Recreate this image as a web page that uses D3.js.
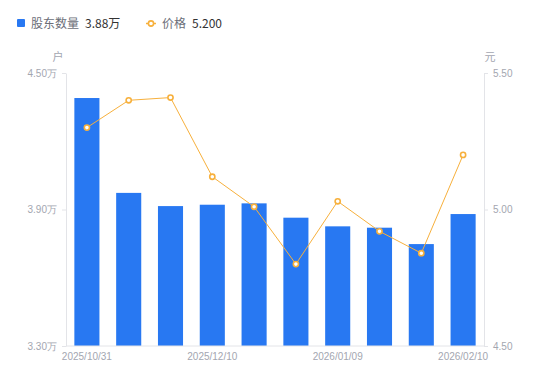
<!DOCTYPE html>
<html><head><meta charset="utf-8">
<script src="https://cdn.jsdelivr.net/npm/d3@7/dist/d3.min.js"></script>
<style>
body{margin:0;background:#fff;}
svg{display:block;font-family:"Noto Sans CJK SC","Noto Sans",sans-serif;}
</style></head>
<body><svg id="c" width="550" height="381"></svg>
<script>
const categories = ["2025/10/31","2025/11/10","2025/11/20","2025/12/10","2025/12/19","2025/12/31","2026/01/09","2026/01/20","2026/01/30","2026/02/10"];
const shownLabels = ["2025/10/31","2025/12/10","2026/01/09","2026/02/10"];
const holders = [4.39, 3.973, 3.915, 3.921, 3.927, 3.864, 3.826, 3.82, 3.748, 3.88]; // 万户
const prices = [5.30, 5.40, 5.41, 5.12, 5.01, 4.80, 5.03, 4.92, 4.84, 5.20];
const leftTicks = [3.30, 3.90, 4.50];
const rightTicks = [4.50, 5.00, 5.50];

const svg = d3.select("#c");
const L = 66, R = 484, T = 73, B = 346;
const blue = "#2878f2", orange = "#f7b03c", gray = "#a3a6b0", axisCol = "#e3e4e8";

const x = d3.scaleBand().domain(categories).range([L, R]).paddingInner(0.4).paddingOuter(0.2);
const yL = d3.scaleLinear().domain([3.30, 4.50]).range([B, T]);
const yR = d3.scaleLinear().domain([4.50, 5.50]).range([B, T]);

// bars
svg.append("g").selectAll("rect").data(holders).join("rect")
  .attr("x", (d,i) => x(categories[i]))
  .attr("y", d => yL(d))
  .attr("width", x.bandwidth())
  .attr("height", d => B - yL(d))
  .attr("fill", blue);

// axes
const styleAxis = g => {
  g.selectAll(".domain").attr("stroke", axisCol);
  g.selectAll(".tick line").attr("stroke", axisCol);
  g.selectAll(".tick text").attr("fill", gray).attr("font-size", 10);
};
const gL = svg.append("g").attr("transform", `translate(${L},0)`)
  .call(d3.axisLeft(yL).tickValues(leftTicks).tickSize(4).tickSizeOuter(0).tickPadding(5).tickFormat(d => d3.format(".2f")(d) + "万"));
styleAxis(gL);
const gR = svg.append("g").attr("transform", `translate(${R},0)`)
  .call(d3.axisRight(yR).tickValues(rightTicks).tickSize(4).tickSizeOuter(0).tickPadding(5).tickFormat(d3.format(".2f")));
styleAxis(gR);
const gB = svg.append("g").attr("transform", `translate(0,${B})`)
  .call(d3.axisBottom(x).tickValues(shownLabels).tickSize(0).tickSizeOuter(0).tickPadding(7));
gB.select(".domain").attr("d", `M${L},0H${R}`);
styleAxis(gB);

// unit labels
svg.append("text").attr("x", 58).attr("y", 61).attr("text-anchor","middle").attr("fill", gray).attr("font-size", 11).text("户");
svg.append("text").attr("x", 490).attr("y", 61).attr("text-anchor","middle").attr("fill", gray).attr("font-size", 11).text("元");

// line
const cx = (i) => x(categories[i]) + x.bandwidth()/2;
const line = d3.line().x((d,i) => cx(i)).y(d => yR(d));
svg.append("path").datum(prices).attr("d", line).attr("fill","none").attr("stroke", orange).attr("stroke-width", 1);
svg.append("g").selectAll("circle").data(prices).join("circle")
  .attr("cx", (d,i) => cx(i)).attr("cy", d => yR(d)).attr("r", 2.6)
  .attr("fill", "#fff").attr("stroke", orange).attr("stroke-width", 1.6);

// legend
const lg = svg.append("g");
lg.append("rect").attr("x", 17).attr("y", 19).attr("width", 8).attr("height", 8).attr("rx", 1).attr("fill", blue);
lg.append("text").attr("x", 31).attr("y", 28).attr("font-size", 12).attr("fill", "#6b6e78").text("股东数量");
lg.append("text").attr("x", 85).attr("y", 28).attr("font-size", 12).attr("fill", "#333").text(d3.format(".2f")(holders[holders.length-1]) + "万");
lg.append("line").attr("x1", 146).attr("x2", 156).attr("y1", 23.5).attr("y2", 23.5).attr("stroke", orange).attr("stroke-width", 1.5);
lg.append("circle").attr("cx", 151).attr("cy", 23.5).attr("r", 2.6).attr("fill", "#fff").attr("stroke", orange).attr("stroke-width", 1.6);
lg.append("text").attr("x", 162).attr("y", 28).attr("font-size", 12).attr("fill", "#6b6e78").text("价格");
lg.append("text").attr("x", 192).attr("y", 28).attr("font-size", 12).attr("fill", "#333").text(d3.format(".3f")(prices[prices.length-1]));
</script></body></html>
